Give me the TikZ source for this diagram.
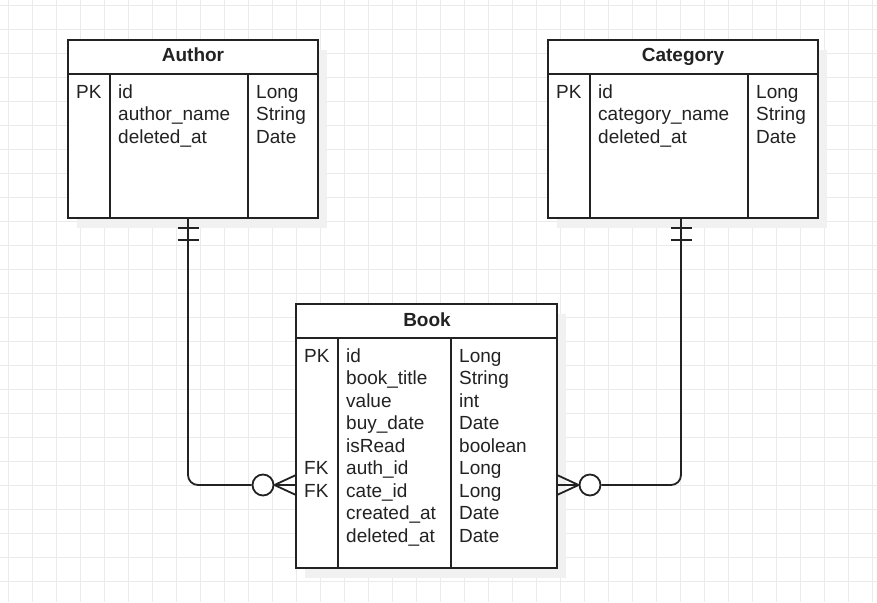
\documentclass[tikz,border=0pt]{standalone}
\usepackage{fontspec}
\setmainfont{Liberation Sans}
\usetikzlibrary{shadows}
\definecolor{ink}{HTML}{222222}
\definecolor{gridc}{HTML}{EBEBEB}
\definecolor{shadowc}{HTML}{F1F1F1}
\newcommand{\erdrows}[1]{\begin{tabular}[t]{@{}l@{}}#1\end{tabular}}
\begin{document}
\begin{tikzpicture}[x=1pt,y=-1pt,
  gridline/.style={draw=gridc, line width=0.8pt},
  erdtable/.style={draw=ink, line width=1.6pt, fill=white, inner sep=0pt, outer sep=0pt,
    drop shadow={shadow xshift=9pt, shadow yshift=-10pt, fill=shadowc, opacity=1}},
  tline/.style={draw=ink, line width=1.6pt},
  cell/.style={inner sep=0pt, text=ink, font=\fontsize{19}{22.5}\selectfont},
  head/.style={inner sep=0pt, text=ink, font=\fontsize{19}{22.5}\selectfont\bfseries},
  conn/.style={draw=ink, line width=1.8pt},
  erdcircle/.style={circle, draw=ink, line width=1.8pt, fill=white, inner sep=0pt, minimum size=21pt}
]
\useasboundingbox (0,0) rectangle (877,602);
\fill[white] (0,0) rectangle (877,602);
\foreach \i in {0,...,36} \draw[gridline] ({8.7+24*\i},0) -- ({8.7+24*\i},602);
\foreach \j in {0,...,24} \draw[gridline] (0,{5+24*\j}) -- (877,{5+24*\j});

% Author
\node[erdtable, minimum width=250pt, minimum height=178pt] (author) at (193,129) {};
\draw[tline] ([yshift=-34pt]author.north west) -- ([yshift=-34pt]author.north east);
\draw[tline] ([xshift=42pt,yshift=-34pt]author.north west) -- ([xshift=42pt]author.south west);
\draw[tline] ([xshift=180pt,yshift=-34pt]author.north west) -- ([xshift=180pt]author.south west);
\node[head, anchor=base] (authorhead) at (193,62) {Author};
\node[cell, anchor=base west] (authorkey) at (76,98) {\erdrows{PK}};
\node[cell, anchor=base west] (authorname) at (118,98) {\erdrows{id\\author\_name\\deleted\_at}};
\node[cell, anchor=base west] (authortype) at (256,98) {\erdrows{Long\\String\\Date}};

% Category
\node[erdtable, minimum width=270pt, minimum height=178pt] (category) at (683,129) {};
\draw[tline] ([yshift=-34pt]category.north west) -- ([yshift=-34pt]category.north east);
\draw[tline] ([xshift=42pt,yshift=-34pt]category.north west) -- ([xshift=42pt]category.south west);
\draw[tline] ([xshift=200pt,yshift=-34pt]category.north west) -- ([xshift=200pt]category.south west);
\node[head, anchor=base] (categoryhead) at (683,62) {Category};
\node[cell, anchor=base west] (categorykey) at (556,98) {\erdrows{PK}};
\node[cell, anchor=base west] (categoryname) at (598,98) {\erdrows{id\\category\_name\\deleted\_at}};
\node[cell, anchor=base west] (categorytype) at (756,98) {\erdrows{Long\\String\\Date}};

% Book
\node[erdtable, minimum width=261pt, minimum height=264pt] (book) at (426.5,436) {};
\draw[tline] ([yshift=-34pt]book.north west) -- ([yshift=-34pt]book.north east);
\draw[tline] ([xshift=42pt,yshift=-34pt]book.north west) -- ([xshift=42pt]book.south west);
\draw[tline] ([xshift=155pt,yshift=-34pt]book.north west) -- ([xshift=155pt]book.south west);
\node[head, anchor=base] (bookhead) at (427,326.5) {Book};
\node[cell, anchor=base west] (bookkey) at (304,362) {\erdrows{PK\\ \\ \\ \\ \\FK\\FK}};
\node[cell, anchor=base west] (bookname) at (346,362) {\erdrows{id\\book\_title\\value\\buy\_date\\isRead\\auth\_id\\cate\_id\\created\_at\\deleted\_at}};
\node[cell, anchor=base west] (booktype) at (459,362) {\erdrows{Long\\String\\int\\Date\\boolean\\Long\\Long\\Date\\Date}};

% Author -- Book
\coordinate (abot) at ([xshift=-5pt]author.south);
\node[erdcircle] (ac) at (263,485) {};
\draw[conn, rounded corners=10pt] (abot) |- (ac.west);
\draw[conn] ([xshift=-10.5pt,yshift=-10pt]abot) -- ([xshift=10.5pt,yshift=-10pt]abot);
\draw[conn] ([xshift=-10.5pt,yshift=-22pt]abot) -- ([xshift=10.5pt,yshift=-22pt]abot);
\draw[conn] (ac.east) -- ([yshift=10pt]book.west |- ac.east)
            (ac.east) -- (book.west |- ac.east)
            (ac.east) -- ([yshift=-10pt]book.west |- ac.east);

% Category -- Book
\coordinate (cbot) at ([xshift=-2pt]category.south);
\node[erdcircle] (cc) at (590,485) {};
\draw[conn, rounded corners=10pt] (cbot) |- (cc.east);
\draw[conn] ([xshift=-10.5pt,yshift=-10pt]cbot) -- ([xshift=10.5pt,yshift=-10pt]cbot);
\draw[conn] ([xshift=-10.5pt,yshift=-22pt]cbot) -- ([xshift=10.5pt,yshift=-22pt]cbot);
\draw[conn] (cc.west) -- ([yshift=10pt]book.east |- cc.west)
            (cc.west) -- (book.east |- cc.west)
            (cc.west) -- ([yshift=-10pt]book.east |- cc.west);
\end{tikzpicture}
\end{document}
